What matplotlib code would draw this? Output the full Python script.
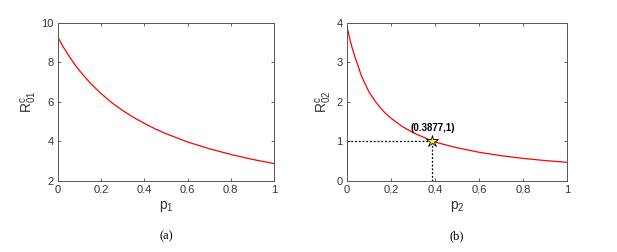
import matplotlib
matplotlib.use("Agg")
import matplotlib.pyplot as plt

plt.rcParams['font.family'] = ['Liberation Sans', 'DejaVu Sans']
plt.rcParams['mathtext.fontset'] = 'custom'
plt.rcParams['mathtext.rm'] = 'Liberation Sans'
plt.rcParams['mathtext.it'] = 'Liberation Sans'

# data
p1 = [0, 0.025, 0.05, 0.075, 0.1, 0.15, 0.2, 0.25, 0.3, 0.35, 0.4, 0.45, 0.5, 0.6, 0.7, 0.8, 0.9, 1.0]
R01 = [9.25, 8.76, 8.33, 7.93, 7.57, 6.94, 6.41, 5.95, 5.56, 5.21, 4.91, 4.63, 4.39, 3.97, 3.63, 3.34, 3.09, 2.88]

p2 = [0, 0.0125, 0.025, 0.0375, 0.05, 0.0625, 0.075, 0.1, 0.125, 0.15, 0.175, 0.2, 0.25, 0.3, 0.35,
      0.3877, 0.45, 0.5, 0.6, 0.7, 0.8, 0.9, 1.0]
R02 = [3.9, 3.59, 3.33, 3.11, 2.92, 2.70, 2.54, 2.25, 2.04, 1.86, 1.71, 1.585, 1.38, 1.22, 1.10,
       1.0, 0.91, 0.838, 0.725, 0.638, 0.570, 0.515, 0.47]

star = (0.3877, 1.0)

fig = plt.figure(figsize=(6.17, 2.52), dpi=100)
ax1 = fig.add_axes([0.094, 0.282, 0.350, 0.628])
ax2 = fig.add_axes([0.5624, 0.282, 0.3566, 0.628])

def style(ax):
    ax.tick_params(direction='in', top=True, right=True, length=2.5, width=0.6,
                   labelsize=8, labelcolor='#333333', color='#444444', pad=3)
    for s in ax.spines.values():
        s.set_linewidth(0.7)
        s.set_color('#555555')
    ax.set_xlim(0, 1)
    ax.set_xticks([0, 0.2, 0.4, 0.6, 0.8, 1])
    ax.set_xticklabels(['0', '0.2', '0.4', '0.6', '0.8', '1'])

ax1.plot(p1, R01, color='red', lw=0.9)
style(ax1)
ax1.set_ylim(2, 10)
ax1.set_yticks([2, 4, 6, 8, 10])
ax1.set_xlabel(r'$\mathrm{p_1}$', fontsize=10, color='#333333', labelpad=3)
ax1.set_ylabel(r'$\mathrm{R^{c}_{01}}$', fontsize=10, color='#333333', labelpad=2)

ax2.plot(p2, R02, color='red', lw=0.9)
ax2.plot([0, star[0]], [star[1], star[1]], color='black', ls=(0, (1.5, 1.5)), lw=0.9)
ax2.plot([star[0], star[0]], [0, star[1]], color='black', ls=(0, (1.5, 1.5)), lw=0.9)
ax2.plot([star[0]], [star[1]], marker='*', ms=9, mfc='#f5f03c', mec='black', mew=0.6)
ax2.annotate('(0.3877,1)', xy=star, xytext=(0, 6), textcoords='offset points',
             ha='center', va='bottom', fontsize=7, fontweight='bold')
style(ax2)
ax2.set_ylim(0, 4)
ax2.set_yticks([0, 1, 2, 3, 4])
ax2.set_xlabel(r'$\mathrm{p_2}$', fontsize=10, color='#333333', labelpad=3)
ax2.set_ylabel(r'$\mathrm{R^{c}_{02}}$', fontsize=10, color='#333333', labelpad=2)

fig.text(0.269, 0.05, '(a)', family='Liberation Serif', fontsize=9, ha='center')
fig.text(0.740, 0.05, '(b)', family='Liberation Serif', fontsize=9, ha='center')

fig.savefig('out.png', dpi=100)
